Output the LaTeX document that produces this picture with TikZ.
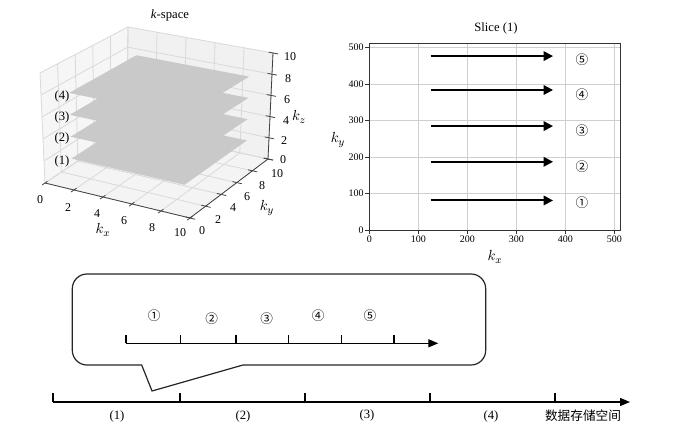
\documentclass[tikz,border=0pt]{standalone}
\usepackage{fontspec}
\setmainfont{Liberation Serif}
\newfontfamily\cjk{Noto Sans CJK SC}
\usetikzlibrary{arrows.meta}
\definecolor{planegray}{HTML}{C9C9C9}
\definecolor{gridgray}{HTML}{D9D9D9}
\definecolor{paneA}{HTML}{F6F6F6}
\definecolor{paneB}{HTML}{F1F1F1}
\definecolor{paneC}{HTML}{F4F4F4}
\definecolor{sgrid}{HTML}{CFCFCF}
\begin{document}
\begin{tikzpicture}[x=0.75pt,y=-0.75pt,
  declare function={
    PX(\x,\y,\z)=(1-\x/10)*(1-\y/10)*(1-\z/10)*45+(\x/10)*(1-\y/10)*(1-\z/10)*190+(1-\x/10)*(\y/10)*(1-\z/10)*127+(\x/10)*(\y/10)*(1-\z/10)*268+(1-\x/10)*(1-\y/10)*(\z/10)*40+(\x/10)*(1-\y/10)*(\z/10)*188+(1-\x/10)*(\y/10)*(\z/10)*128+(\x/10)*(\y/10)*(\z/10)*273;
    PY(\x,\y,\z)=(1-\x/10)*(1-\y/10)*(1-\z/10)*183+(\x/10)*(1-\y/10)*(1-\z/10)*218+(1-\x/10)*(\y/10)*(1-\z/10)*128+(\x/10)*(\y/10)*(1-\z/10)*159+(1-\x/10)*(1-\y/10)*(\z/10)*73+(\x/10)*(1-\y/10)*(\z/10)*103+(1-\x/10)*(\y/10)*(\z/10)*27+(\x/10)*(\y/10)*(\z/10)*53;
  },
  gridline/.style={draw=gridgray, line width=0.6pt},
  axline/.style={draw=black!75, line width=0.6pt},
  tlab/.style={font=\fontsize{9}{10}\selectfont, inner sep=0pt},
  stlab/.style={font=\fontsize{7.5}{8}\selectfont, inner sep=0pt},
  circ/.style={font=\cjk\fontsize{9.5}{11}\selectfont, inner sep=0pt},
  lab/.style={font=\fontsize{9.5}{11}\selectfont, inner sep=0pt},
  klab/.style={font=\fontsize{11}{12}\selectfont, inner sep=0pt},
  sgridline/.style={draw=sgrid, line width=0.6pt},
  frame/.style={draw=black!80, line width=0.6pt},
  scanarrow/.style={-{Triangle[length=7pt,width=7pt]}, line width=1.5pt},
  axisarrow/.style={-{Triangle[length=7.5pt,width=6pt]}, line width=1pt},
  callout/.style={draw=black!85, line width=0.9pt},
]
\useasboundingbox (0,0) rectangle (695,434);
\fill[white] (0,0) rectangle (695,434);

% ---------- 3D k-space ----------
\foreach \i in {0,10}{\foreach \j in {0,10}{\foreach \k in {0,10}{
  \coordinate (c\i-\j-\k) at ({PX(\i,\j,\k)},{PY(\i,\j,\k)});}}}
\fill[paneA] (c0-0-0) -- (c0-10-0) -- (c0-10-10) -- (c0-0-10) -- cycle;
\fill[paneB] (c0-10-0) -- (c10-10-0) -- (c10-10-10) -- (c0-10-10) -- cycle;
\fill[paneC] (c0-0-0) -- (c10-0-0) -- (c10-10-0) -- (c0-10-0) -- cycle;
\foreach \t in {0,2,...,10}{
  \draw[gridline] ({PX(0,\t,0)},{PY(0,\t,0)}) -- ({PX(0,\t,10)},{PY(0,\t,10)});
  \draw[gridline] ({PX(0,0,\t)},{PY(0,0,\t)}) -- ({PX(0,10,\t)},{PY(0,10,\t)});
  \draw[gridline] ({PX(\t,10,0)},{PY(\t,10,0)}) -- ({PX(\t,10,10)},{PY(\t,10,10)});
  \draw[gridline] ({PX(0,10,\t)},{PY(0,10,\t)}) -- ({PX(10,10,\t)},{PY(10,10,\t)});
  \draw[gridline] ({PX(\t,0,0)},{PY(\t,0,0)}) -- ({PX(\t,10,0)},{PY(\t,10,0)});
  \draw[gridline] ({PX(0,\t,0)},{PY(0,\t,0)}) -- ({PX(10,\t,0)},{PY(10,\t,0)});
}
\draw[axline] (c0-0-0) -- (c10-0-0) -- (c10-10-0) -- (c10-10-10);
\foreach \t in {0,2,...,10}{
  \draw[axline] ({PX(\t,0.3,0)},{PY(\t,0.3,0)}) -- ({PX(\t,-0.35,0)},{PY(\t,-0.35,0)});
  \draw[axline] ({PX(9.7,\t,0)},{PY(9.7,\t,0)}) -- ({PX(10.35,\t,0)},{PY(10.35,\t,0)});
  \draw[axline] ({PX(9.7,10,\t)},{PY(9.7,10,\t)}) -- ({PX(10.35,10,\t)},{PY(10.35,10,\t)});
}
\foreach \z in {8,6,4,2}{
  \fill[planegray] ({PX(1.2,1.2,\z)},{PY(1.2,1.2,\z)}) -- ({PX(9,1.2,\z)},{PY(9,1.2,\z)})
    -- ({PX(9,9,\z)},{PY(9,9,\z)}) -- ({PX(1.2,9,\z)},{PY(1.2,9,\z)}) -- cycle;
}
\node[lab] (ttl3d) at (170,15) {\textit{k}-space};
\node[lab] (sl4) at (62,96) {(4)};
\node[lab] (sl3) at (62,117) {(3)};
\node[lab] (sl2) at (62,138) {(2)};
\node[lab] (sl1) at (62,161) {(1)};
\node[tlab] (kx0) at (40,200) {0};
\node[tlab] (kx2) at (68,208) {2};
\node[tlab] (kx4) at (97,214) {4};
\node[tlab] (kx6) at (124,221) {6};
\node[tlab] (kx8) at (152,228) {8};
\node[tlab] (kx10) at (180,233) {10};
\node[tlab] (ky0) at (202,231) {0};
\node[tlab] (ky2) at (218,220) {2};
\node[tlab] (ky4) at (233,208) {4};
\node[tlab] (ky6) at (247,197) {6};
\node[tlab] (ky8) at (262,186) {8};
\node[tlab] (ky10) at (277,174) {10};
\node[tlab] (kz0) at (283,160) {0};
\node[tlab] (kz2) at (284,141) {2};
\node[tlab] (kz4) at (286,121) {4};
\node[tlab] (kz6) at (287,100) {6};
\node[tlab] (kz8) at (288,79) {8};
\node[tlab] (kz10) at (290,57) {10};
\node[klab] (kxlab) at (103,230) {$k_x$};
\node[klab] (kylab) at (267,208) {$k_y$};
\node[klab] (kzlab) at (299,117) {$k_z$};

% ---------- Slice (1) ----------
\begin{scope}[shift={(369.3,230)}, x=0.3675pt, y=0.27345pt]
  \foreach \v in {100,200,...,500}{
    \draw[sgridline] (\v,0) -- (\v,512);
    \draw[sgridline] (0,\v) -- (512,\v);
  }
  \draw[frame] (0,0) rectangle (512,512);
  \foreach \v in {0,100,...,500}{
    \draw[frame] (\v,0) -- ++(0,-3pt);
    \draw[frame] (0,\v) -- ++(-3pt,0);
    \node[stlab, anchor=north] (sx\v) at ([yshift=-4.5pt]\v,0) {\v};
    \node[stlab, anchor=east] (sy\v) at ([xshift=-4pt]0,\v) {\v};
  }
  \foreach \r/\n in {81/a,187/b,285/c,384/d,477/e}{
    \coordinate (as\n) at (125,\r);
    \coordinate (ae\n) at (375,\r);
    \draw[scanarrow] (as\n) -- (ae\n);
  }
  \node[circ] (s5) at (434,466) {⑤};
  \node[circ] (s4) at (434,370) {④};
  \node[circ] (s3) at (434,272) {③};
  \node[circ] (s2) at (434,173) {②};
  \node[circ] (s1) at (434,75) {①};
\end{scope}
\node[lab] (ttlslice) at (496,28) {Slice (1)};
\node[klab] (skx) at (495,257) {$k_x$};
\node[klab] (sky) at (338,140) {$k_y$};

% ---------- callout ----------
\draw[callout] (243,365) -- (300,365) [rounded corners=11pt] -- (485.7,365) -- (485.7,274)
  -- (72.3,274) -- (72.3,365) -- (110,365) [sharp corners] -- (141.7,365) -- (152,391) -- cycle;
\coordinate (ia0) at (126,343.3);
\coordinate (ia1) at (438.3,343.3);
\draw[axisarrow] (ia0) -- (ia1);
\foreach \x in {126,180.7,236,288.7,341.3,394}{
  \draw[line width=1pt] (\x,343.3) -- (\x,335);
}
\node[circ] (c1) at (154.3,316) {①};
\node[circ] (c2) at (211.7,318.3) {②};
\node[circ] (c3) at (266.7,318.3) {③};
\node[circ] (c4) at (318.3,316) {④};
\node[circ] (c5) at (370,316) {⑤};

% ---------- storage axis ----------
\coordinate (ba0) at (53,402);
\coordinate (ba1) at (630,402);
\draw[axisarrow] (ba0) -- (ba1);
\foreach \x in {53,180,305,430,555}{
  \draw[line width=1pt] (\x,402) -- (\x,393);
}
\node[lab] (b1) at (117,416) {(1)};
\node[lab] (b2) at (243,416) {(2)};
\node[lab] (b3) at (367,415) {(3)};
\node[lab] (b4) at (491,416) {(4)};
\node[lab, font=\cjk\fontsize{9.5}{11}\selectfont] (store) at (583,416) {数据存储空间};
\end{tikzpicture}
\end{document}
